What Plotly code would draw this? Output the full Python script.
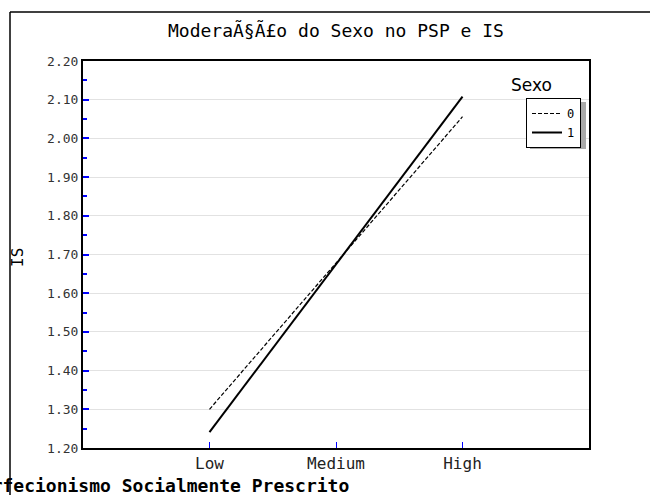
import plotly.graph_objects as go

categories = ["Low", "Medium", "High"]
sexo0 = [1.300, 1.678, 2.056]
sexo1 = [1.241, 1.675, 2.108]
series_names = ["0", "1"]
title_text = "ModeraÃ§Ã£o do Sexo no PSP e IS"
x_title = "Perfecionismo Socialmente Prescrito"
y_title = "IS"
legend_title = "Sexo"

W, H = 650, 495
L, R, T, B = 83, 589, 61, 448
pw, ph = R - L, B - T

def px(x):
    return (x - L) / pw

def py(y):
    return (B - y) / ph

fig = go.Figure()
fig.add_trace(go.Scatter(x=categories, y=sexo0, mode="lines", name=series_names[0],
                         line=dict(color="black", width=1.2, dash="4px,2px")))
fig.add_trace(go.Scatter(x=categories, y=sexo1, mode="lines", name=series_names[1],
                         line=dict(color="black", width=2)))

mono = "DejaVu Sans Mono"
fig.update_layout(
    width=W, height=H,
    margin=dict(l=L, r=W - R, t=T, b=H - B),
    paper_bgcolor="white", plot_bgcolor="white",
    showlegend=True,
    legend=dict(x=px(526), y=py(98), xanchor="left", yanchor="top",
                bgcolor="white", bordercolor="black", borderwidth=1,
                font=dict(family=mono, size=12, color="black"),
                itemwidth=30),
    xaxis=dict(type="category", range=[-1, 3], showgrid=False,
               ticks="inside", ticklen=6, tickcolor="blue", tickwidth=1,
               showline=True, linecolor="black", linewidth=2, mirror=True,
               tickfont=dict(family=mono, size=16, color="#222"), zeroline=False),
    yaxis=dict(range=[1.2, 2.2], dtick=0.1, tick0=1.2, tickformat=".2f",
               ticks="inside", ticklen=6, tickcolor="blue", tickwidth=1.5,
               minor=dict(dtick=0.05, ticks="inside", ticklen=4, tickcolor="blue", showgrid=False),
               showgrid=True, gridcolor="#e2e2e2", gridwidth=1,
               showline=True, linecolor="black", linewidth=2, mirror=True,
               tickfont=dict(family=mono, size=13, color="#333"), zeroline=False),
)

# outer frame
fig.add_shape(type="line", xref="paper", yref="paper", x0=px(10), x1=px(650), y0=py(12), y1=py(12),
              line=dict(color="black", width=1.5))
fig.add_shape(type="line", xref="paper", yref="paper", x0=px(10), x1=px(10), y0=py(12), y1=py(495),
              line=dict(color="black", width=1.5))
# legend shadow
fig.add_shape(type="rect", xref="paper", yref="paper", x0=px(530), x1=px(586), y0=py(102), y1=py(149),
              line=dict(width=0), fillcolor="#aaaaaa", layer="above")

fig.add_annotation(text=title_text, xref="paper", yref="paper", x=px(336), y=py(30),
                   showarrow=False, xanchor="center", yanchor="middle",
                   font=dict(family=mono, size=18, color="black"))
fig.add_annotation(text=legend_title, xref="paper", yref="paper", x=px(531), y=py(85),
                   showarrow=False, xanchor="center", yanchor="middle",
                   font=dict(family="DejaVu Sans", size=17, color="black"))
fig.add_annotation(text=y_title, xref="paper", yref="paper", x=px(17), y=py(258),
                   showarrow=False, xanchor="center", yanchor="middle", textangle=-90,
                   font=dict(family=mono, size=16, color="black"))
fig.add_annotation(text="<b>" + x_title + "</b>", xref="paper", yref="paper", x=px(351), y=py(485),
                   showarrow=False, xanchor="right", yanchor="middle",
                   font=dict(family=mono, size=18, color="black"))

fig.write_html("out.html", config={"displayModeBar": False},
               post_script="document.body.style.margin='0';document.body.style.overflow='hidden';")
